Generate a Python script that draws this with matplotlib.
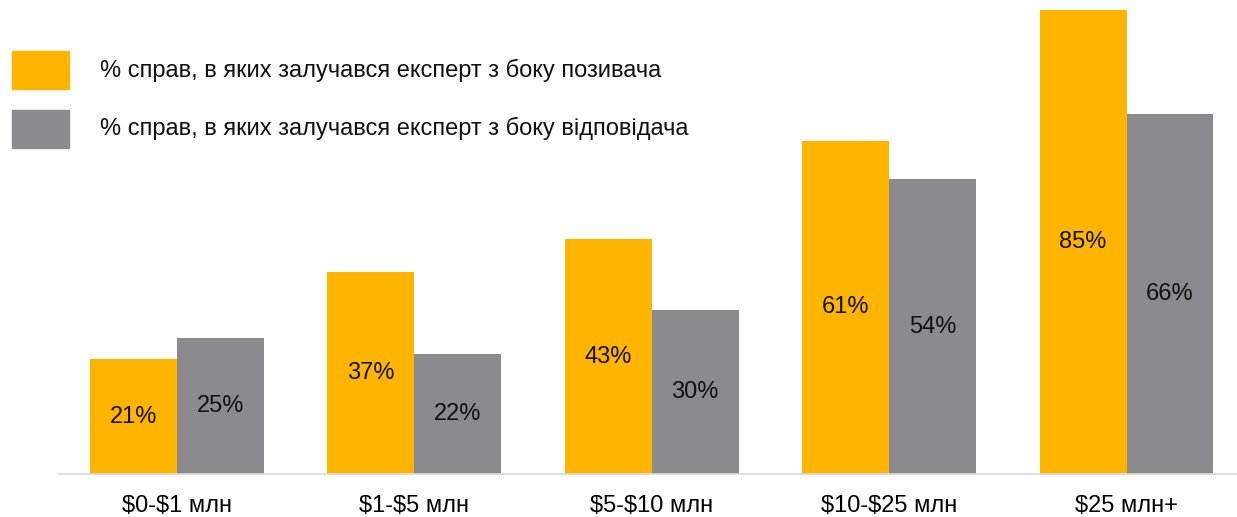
import matplotlib.pyplot as plt
from matplotlib.patches import Rectangle
import numpy as np

plt.rcParams['font.family'] = ['Liberation Sans', 'DejaVu Sans']
plt.rcParams['text.parse_math'] = False

categories = ["$0-$1 млн", "$1-$5 млн", "$5-$10 млн", "$10-$25 млн", "$25 млн+"]
claimant = [21, 37, 43, 61, 85]
respondent = [25, 22, 30, 54, 66]
series_names = ["% справ, в яких залучався експерт з боку позивача",
                "% справ, в яких залучався експерт з боку відповідача"]

orange = "#FFB500"
gray = "#8B8B8F"
colors = [orange, gray]

W, H = 1237, 517
fig = plt.figure(figsize=(W / 100, H / 100), dpi=100)
ax = fig.add_axes([58 / W, (H - 474) / H, (W - 58) / W, (474 - 4.5) / H])

x = np.arange(len(categories))
bw = 0.366
b1 = ax.bar(x - bw / 2, claimant, bw, color=orange)
b2 = ax.bar(x + bw / 2, respondent, bw, color=gray)

for bars, vals in ((b1, claimant), (b2, respondent)):
    for b, v in zip(bars, vals):
        ax.text(b.get_x() + b.get_width() / 2, v / 2, f"{v}%",
                ha="center", va="center", fontsize=17, color="#111111")

ax.set_xlim(-0.5, 4 + (W - 1126.5) / 237.5)
ax.set_ylim(0, 86)
ax.set_xticks(x)
ax.set_xticklabels(categories, fontsize=17)
ax.tick_params(axis="x", length=0, pad=15)
ax.set_yticks([])
for s in ["top", "right", "left"]:
    ax.spines[s].set_visible(False)
ax.spines["bottom"].set_color("#D9D9D9")
ax.spines["bottom"].set_linewidth(1.2)

# legend drawn by hand (pixel layout from the reference)
for i, (name, c) in enumerate(zip(series_names, colors)):
    top = 51 + i * 58.5
    fig.patches.append(Rectangle((12 / W, 1 - (top + 38) / H), 57 / W, 38 / H,
                                 transform=fig.transFigure, color=c))
    fig.text(100 / W, 1 - (top + 19) / H, name, fontsize=17,
             ha="left", va="center", color="#111111")

fig.savefig("out.png", dpi=100)
